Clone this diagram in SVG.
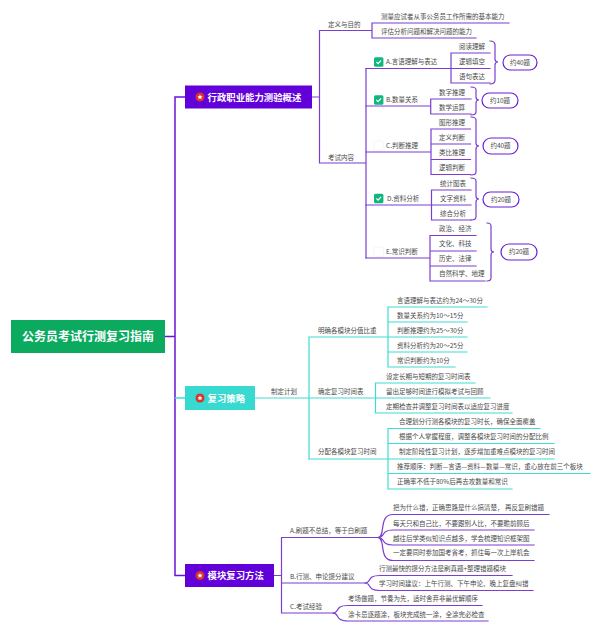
<svg xmlns="http://www.w3.org/2000/svg" width="600" height="632" viewBox="0 0 600 632">
<style>
text{font-family:"Noto Sans CJK SC","Liberation Sans",sans-serif;font-size:6.5px;fill:#4a4a4a}
.big{font-weight:700;fill:#fff;font-size:9.4px}
.root{font-weight:700;fill:#fff;font-size:12px;text-anchor:middle}
.mid{text-anchor:middle}
.p,.t,.p2{fill:none;stroke-linecap:square}
.p{stroke:#7a3fd1;stroke-width:1.2}
.p2{stroke:#6a12d8;stroke-width:1.5}
.t{stroke:#3fdcd2;stroke-width:1.2}
.tk{fill:none;stroke:#3fdcd2;stroke-width:1.5}
.pill{fill:#fff;stroke:#6a1fd6;stroke-width:1.2}
.cb{fill:#0fb77c}
.cbe{fill:#fff;stroke:#eeeeee;stroke-width:.6}
.ck{fill:none;stroke:#fff;stroke-width:1.2}
.star{fill:#fff}
.badge{fill:#d9342b}
</style>
<defs>
<g id="icon"><circle class="badge" r="4.5"/><polygon class="star" points="0,-2.6 .8,-.8 2.6,-.7 1.2,.5 1.7,2.3 0,1.3 -1.7,2.3 -1.2,.5 -2.6,-.7 -.8,-.8"/></g>
<g id="chk"><rect class="cb" x="-4.7" y="-4.7" width="9.4" height="9.4" rx="1.5"/><path class="ck" d="M-2.3,0 L-.6,1.7 L2.4,-1.6"/></g>
</defs>
<g id="connectors">
<path class="p2" d="M165,336.5H175M175,97V575.5M175,97H185M175,575.5H185"/>
<path class="tk" d="M175,398H185"/>
<path class="p" d="M312,97H319.5M319.5,30.5V163M319.5,30.5H372M372,23V38M372,23H509M372,38H476M319.5,163H366M366,68.5V258"/>
<path class="p" d="M366,68.5H490M451,53V83M451,53H490M451,83H490"/>
<path class="p" d="M490,41Q495,41 495,45V59Q495,62 498,62Q495,62 495,65V80Q495,84 490,84"/>
<path class="p" d="M366,106H430.7M430.7,99V114M430.7,99H471M430.7,114H471"/>
<path class="p" d="M471,87Q476,87 476,90V97Q476,100 479,100Q476,100 476,103V112Q476,115 471,115"/>
<path class="p" d="M366,152H431M431,129V174.5M431,129H470.5M431,144H470.5M431,159.5H470.5M431,174.5H470.5"/>
<path class="p" d="M471,117Q476,117 476,120V143Q476,146 479,146Q476,146 476,149V172Q476,175 471,175"/>
<path class="p" d="M366,205H471M431.5,190V220M431.5,190H471M431.5,220H471"/>
<path class="p" d="M471,178Q476,178 476,181V196Q476,199 479,199Q476,199 476,202V217Q476,220 471,220"/>
<path class="p" d="M366,258H430M430,235.5V281M430,235.5H476M430,251H476M430,266H476M430,281H485"/>
<path class="p" d="M487,223Q491,223 491,226V249Q491,252 494,252Q491,252 491,255V278Q491,281 487,281"/>
<path class="t" d="M255,398H375.5M309,337V459M309,337H388M388,307V367M388,307H487M388,322H467M388,337H467M388,352H467M388,367H455"/>
<path class="t" d="M375.5,383V413M375.5,383H475M375.5,398H490M375.5,413H512"/>
<path class="t" d="M309,459H388M388,428.5V489M388,428.5H540M388,443.5H554M388,459H554M388,473.5H590M388,489H512"/>
<path class="p" d="M274,575.5H281.5M281.5,537.5V613M281.5,537.5H378M281.5,583H365M281.5,613H333"/>
<path class="p" d="M378,537.5C386,537.5 378,514.5 393,514.5H549M378,537.5C386,537.5 380,530 393,530H534M378,537.5C386,537.5 380,545 393,545H534M378,537.5C386,537.5 378,560.5 393,560.5H534"/>
<path class="p" d="M365,583C372,583 366,575.5 380,575.5H512M365,583C372,583 366,590.5 380,590.5H533"/>
<path class="p" d="M333,613C340,613 334,605.5 348,605.5H482M333,613C340,613 334,621 348,621H488"/>
</g>
<g id="root"><rect x="11" y="320" width="154" height="33" fill="#0baa5f"/><text class="root" x="88" y="341">公务员考试行测复习指南</text></g>
<g id="n1"><rect x="185" y="85.5" width="127" height="23" fill="#6200da"/><use href="#icon" x="200" y="97"/><text class="big" x="207.5" y="100.5">行政职业能力测验概述</text></g>
<g id="n2"><rect x="185" y="386" width="70" height="24" fill="#38d9d0"/><use href="#icon" x="200" y="398"/><text class="big" x="207.5" y="401.5">复习策略</text></g>
<g id="n3"><rect x="185" y="564" width="89" height="23" fill="#6200da"/><use href="#icon" x="200" y="575.5"/><text class="big" x="207.5" y="579">模块复习方法</text></g>
<g id="s1">
<text x="328" y="27.3">定义与目的</text>
<text x="381" y="19.3">测量应试者从事公务员工作所需的基本能力</text>
<text x="381" y="34.3">评估分析问题和解决问题的能力</text>
<text x="328" y="159.5">考试内容</text>
<use href="#chk" x="378.7" y="62"/><text x="386" y="64.3">A.言语理解与表达</text>
<text x="459" y="49.3">阅读理解</text><text x="459" y="64.3">逻辑填空</text><text x="459" y="79.3">语句表达</text>
<rect class="pill" x="503" y="55" width="34" height="15" rx="7.5"/><text class="mid" x="520" y="64.8">约40题</text>
<use href="#chk" x="378.7" y="100"/><text x="386" y="102.3">B.数量关系</text>
<text x="439" y="95.3">数字推理</text><text x="439" y="110.3">数学运算</text>
<rect class="pill" x="482" y="93" width="36" height="15" rx="7.5"/><text class="mid" x="500" y="102.8">约10题</text>
<rect class="cbe" x="374" y="141" width="9.4" height="9.4" rx="1.5"/><text x="386" y="148.3">C.判断推理</text>
<text x="439" y="125.3">图形推理</text><text x="439" y="140.3">定义判断</text><text x="439" y="155.3">类比推理</text><text x="439" y="170.3">逻辑判断</text>
<rect class="pill" x="483" y="138" width="35" height="16" rx="8"/><text class="mid" x="500.5" y="148.3">约40题</text>
<use href="#chk" x="378.7" y="198.5"/><text x="387" y="200.8">D.资料分析</text>
<text x="440" y="186.3">统计图表</text><text x="440" y="201.3">文字资料</text><text x="440" y="216.3">综合分析</text>
<rect class="pill" x="483" y="192" width="36" height="15" rx="7.5"/><text class="mid" x="501" y="201.8">约20题</text>
<rect class="cbe" x="374" y="247" width="9.4" height="9.4" rx="1.5"/><text x="386" y="254.3">E.常识判断</text>
<text x="439" y="231.3">政治、经济</text><text x="439" y="246.3">文化、科技</text><text x="439" y="261.3">历史、法律</text><text x="439" y="276.3">自然科学、地理</text>
<rect class="pill" x="501" y="244" width="36" height="16" rx="8"/><text class="mid" x="519" y="254.3">约20题</text>
</g>
<g id="s2">
<text x="271" y="394.3">制定计划</text>
<text x="318" y="333.3">明确各模块分值比重</text>
<text x="397" y="302.8">言语理解与表达约为24～30分</text>
<text x="397" y="318.3">数量关系约为10～15分</text>
<text x="397" y="333.3">判断推理约为25～30分</text>
<text x="397" y="348.3">资料分析约为20～25分</text>
<text x="397" y="363.3">常识判断约为10分</text>
<text x="318" y="394.3">确定复习时间表</text>
<text x="386" y="379.3">设定长期与短期的复习时间表</text>
<text x="386" y="394.3">留出足够时间进行模拟考试与回顾</text>
<text x="386" y="409.3">定期检查并调整复习时间表以适应复习进度</text>
<text x="318" y="454.3">分配各模块复习时间</text>
<text x="399" y="424.3">合理划分行测各模块的复习时长，确保全面覆盖</text>
<text x="399" y="439.3">根据个人掌握程度，调整各模块复习时间的分配比例</text>
<text x="399" y="454.3">制定阶段性复习计划，逐步增加重难点模块的复习时间</text>
<text x="397" y="469.3">推荐顺序：判断—言语—资料—数量—常识，重心放在前三个板块</text>
<text x="397" y="484.3">正确率不低于80%后再去攻数量和常识</text>
</g>
<g id="s3">
<text x="290" y="533.3">A.刷题不总结，等于白刷题</text>
<text x="393" y="510.3">把为什么错，正确思路是什么搞清楚， 再反复刷错题</text>
<text x="393" y="526.3">每天只和自己比，不要跟别人比，不要瞻前顾后</text>
<text x="393" y="540.8">越往后学类似知识点越多，学会梳理知识框架图</text>
<text x="393" y="555.3">一定要同时参加国考省考，抓住每一次上岸机会</text>
<text x="290" y="579.3">B.行测、申论提分建议</text>
<text x="379" y="571.3">行测最快的提分方法是刷真题+整理错题模块</text>
<text x="379" y="586.3">学习时间建议：上午行测、下午申论、晚上复盘纠错</text>
<text x="290" y="609.3">C.考试经验</text>
<text x="348" y="601.3">考场做题，节奏为先，适时舍弃非最优解顺序</text>
<text x="348" y="617.3">涂卡忌逐题涂，板块完成统一涂，全涂完必检查</text>
</g>
</svg>
